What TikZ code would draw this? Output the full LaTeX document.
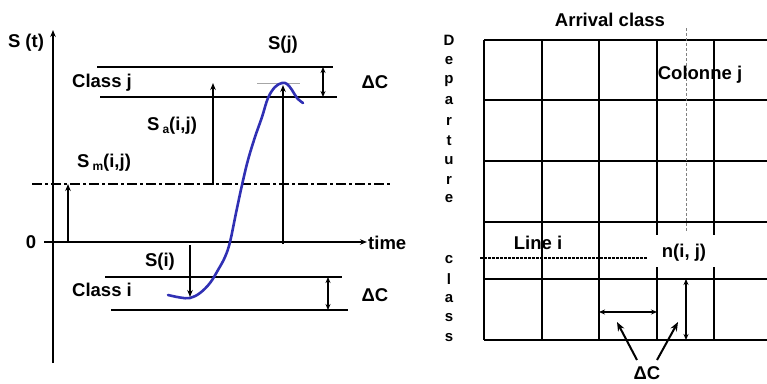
\documentclass[tikz,border=0pt]{standalone}
\usepackage{fontspec}
\setmainfont{Liberation Sans}
\usetikzlibrary{arrows.meta}
\definecolor{curveblue}{RGB}{48,48,180}
\newcommand\lblfont{\fontsize{18.5}{21}\selectfont\bfseries}
\newcommand\subfont{\fontsize{12}{13}\selectfont\bfseries}
\newcommand\vertfont{\fontsize{15}{17}\selectfont\bfseries}
\begin{document}
\begin{tikzpicture}[x=1pt,y=-1pt,
  lab/.style={font=\lblfont,inner sep=0pt},
  vlab/.style={font=\vertfont,inner sep=0pt},
  axisarrow/.style={line width=1.8pt,-{Stealth[length=7pt,width=5.5pt]}},
  clsline/.style={line width=1.4pt},
  uparrow/.style={line width=2.4pt,-{Stealth[length=7pt,width=5.5pt]}},
  dblarrow/.style={line width=1.5pt,{Stealth[length=6pt,width=5pt]}-{Stealth[length=6pt,width=5pt]}},
  gridline/.style={line width=1.9pt},
  ptrarrow/.style={line width=2pt,-{Stealth[length=9pt,width=7pt]}},
  dashdotline/.style={line width=2.4pt,dash pattern=on 10pt off 3pt on 3pt off 3pt},
  curve/.style={curveblue,line width=2.6pt,line cap=round,line join=round}]
\useasboundingbox (0,0) rectangle (767,383);

% ---------- left plot ----------
\coordinate (yb) at (53,363); \coordinate (yt) at (53,30);
\draw[axisarrow] (yb) -- (yt);
\coordinate (xl) at (44,242); \coordinate (xr) at (367,242);
\draw[axisarrow] (xl) -- (xr);
\node[lab] (st) at (26,43) {S (t)};
\node[lab] (zero) at (31,242) {0};
\node[lab,anchor=west] (time) at (368,243) {time};

\coordinate (ddl) at (32,184); \coordinate (ddr) at (393,184);
\draw[dashdotline] (ddl) -- (ddr);

% class j
\coordinate (cj1l) at (97,67);  \coordinate (cj1r) at (333,67);
\coordinate (cj2l) at (100,97); \coordinate (cj2r) at (337,97);
\draw[clsline] (cj1l) -- (cj1r);
\draw[clsline] (cj2l) -- (cj2r);
\node[lab] (classj) at (102,83) {Class j};
\coordinate (dcjt) at (323,67); \coordinate (dcjb) at (323,97);
\draw[dblarrow] (dcjt) -- (dcjb);
\node[lab] (dcj) at (375,82) {ΔC};
\node[lab] (sj) at (283,45) {S(j)};
\coordinate (gl) at (257,83); \coordinate (gr) at (300,83);
\draw[gray!70,line width=1pt] (gl) -- (gr);

% class i
\coordinate (ci1l) at (105,277); \coordinate (ci1r) at (342,277);
\coordinate (ci2l) at (111,310); \coordinate (ci2r) at (348,310);
\draw[clsline] (ci1l) -- (ci1r);
\draw[clsline] (ci2l) -- (ci2r);
\node[lab] (classi) at (102,290) {Class i};
\coordinate (dcit) at (328,277); \coordinate (dcib) at (328,310);
\draw[dblarrow] (dcit) -- (dcib);
\node[lab] (dci) at (375,295) {ΔC};
\node[lab] (si) at (160,262) {S(i)};

% blue curve
\draw[curve] plot[smooth,tension=0.6] coordinates {
 (168,295) (180,297.5) (190,298) (200,293) (210,283) (218,270) (225,257)
 (230,242) (236,213) (242,185) (248,160) (255,137) (262,117) (268,98)
 (275,87) (282,83) (287,84) (292,90) (297,98) (303,103)};

% arrows
\coordinate (sm0) at (68,242); \coordinate (sm1) at (68,184);
\draw[uparrow] (sm0) -- (sm1);
\node[lab] (sm) at (104,163) {S\,\raisebox{-3pt}{\subfont m}(i,j)};
\coordinate (sa0) at (213,185); \coordinate (sa1) at (213,83);
\draw[uparrow] (sa0) -- (sa1);
\node[lab] (sa) at (172,126) {S\,\raisebox{-3pt}{\subfont a}(i,j)};
\coordinate (sj0) at (283,244); \coordinate (sj1) at (283,85);
\draw[uparrow] (sj0) -- (sj1);
\coordinate (si0) at (190,245); \coordinate (si1) at (190,297);
\draw[uparrow] (si0) -- (si1);

% ---------- right grid ----------
\node[lab] (arrival) at (610,20) {Arrival class};
\foreach \yy in {40,100,161,222,279,340}
  \draw[gridline] (484,\yy) -- (767,\yy);
\foreach \xx in {484,542,599}
  \draw[gridline] (\xx,40) -- (\xx,340);
\foreach \xx in {657,714}{
  \draw[gridline] (\xx,40) -- (\xx,235);
  \draw[gridline] (\xx,267) -- (\xx,340);}
\coordinate (cvt) at (686,28); \coordinate (cvb) at (686,232);
\draw[gray,line width=0.9pt,dash pattern=on 3pt off 2pt] (cvt) -- (cvb);
\node[lab] (colj) at (700,75) {Colonne j};
\coordinate (lil) at (480,258); \coordinate (lir) at (647,258);
\draw[line width=1.6pt,dash pattern=on 2.5pt off 1.5pt] (lil) -- (lir);
\node[lab] (linei) at (538,243) {Line i};
\node[lab] (nij) at (684,253) {n(i, j)};

% departure class letters
\foreach \ch/\yy in {D/40,e/61,p/81,a/101,r/121,t/141,u/161,r/180,e/199,c/260,l/279,a/299,s/318,s/338}
  \node[vlab] at (449,\yy) {\ch};

% delta C arrows
\coordinate (hl) at (599,312); \coordinate (hr) at (657,312);
\draw[dblarrow] (hl) -- (hr);
\coordinate (vt) at (686,279); \coordinate (vb) at (686,340);
\draw[dblarrow] (vt) -- (vb);
\node[lab] (dcg) at (647,373) {ΔC};
\coordinate (p1s) at (637,360); \coordinate (p1e) at (617,322);
\coordinate (p2s) at (657,360); \coordinate (p2e) at (678,322);
\draw[ptrarrow] (p1s) -- (p1e);
\draw[ptrarrow] (p2s) -- (p2e);
\end{tikzpicture}
\end{document}
